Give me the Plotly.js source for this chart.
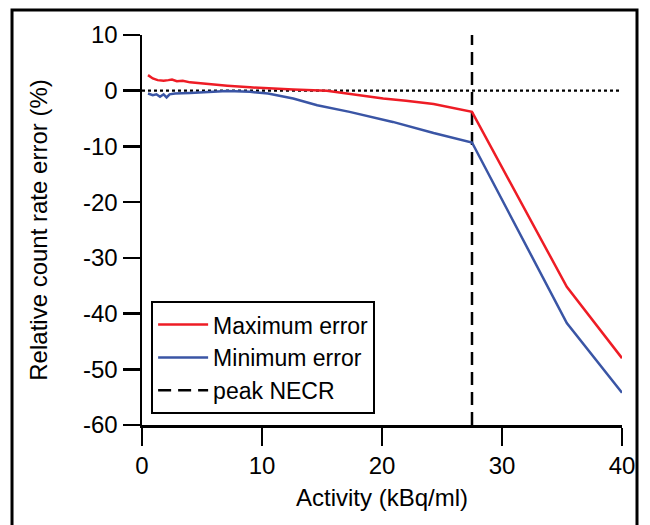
<!DOCTYPE html>
<html>
<head>
<meta charset="utf-8">
<script src="https://cdn.plot.ly/plotly-3.0.1.min.js"></script>
<style>
  html, body { margin: 0; padding: 0; background: #fff; }
  #chart { width: 650px; height: 525px; }
</style>
</head>
<body>
<div id="chart"></div>
<script>
// Maximum error (red)
const maxX = [0.5, 0.9, 1.3, 1.8, 2.2, 2.5, 2.9, 3.4, 4.0, 5.4, 7.1, 9.0, 10.5, 12.6, 15.4, 17.5, 20.1, 22.0, 24.3, 27.5, 35.4, 40.0];
const maxY = [2.8, 2.2, 1.9, 1.8, 1.9, 2.0, 1.7, 1.8, 1.5, 1.2, 0.9, 0.6, 0.4, 0.2, 0.0, -0.6, -1.4, -1.8, -2.4, -3.8, -35.2, -48.0];
// Minimum error (blue)
const minX = [0.5, 0.9, 1.2, 1.5, 1.8, 2.05, 2.3, 2.75, 4.0, 5.4, 7.1, 9.0, 10.5, 12.6, 14.6, 17.3, 20.9, 24.3, 27.5, 35.4, 40.0];
const minY = [-0.5, -0.8, -0.65, -1.1, -0.65, -1.2, -0.65, -0.5, -0.4, -0.2, -0.05, -0.2, -0.5, -1.4, -2.6, -3.8, -5.6, -7.6, -9.3, -41.7, -54.2];
// Peak NECR activity
const peakNECR = 27.5;
const xRange = [0, 40];
const yRange = [-60, 10];
const xTicks = [0, 10, 20, 30, 40];
const xTickText = ['0', '10', '20', '30', '40'];
const yTicks = [10, 0, -10, -20, -30, -40, -50, -60];
const yTickText = ['10', '0', '-10', '-20', '-30', '-40', '-50', '-60'];

const FONT = 'Liberation Sans, Arial, sans-serif';
const FS = 24;

const traces = [
  {
    x: xRange, y: [0, 0], mode: 'lines', showlegend: false, hoverinfo: 'skip',
    line: { color: '#000', width: 2.2, dash: 'dot' }
  },
  {
    x: [peakNECR, peakNECR], y: yRange, mode: 'lines', name: 'peak NECR', legendrank: 3,
    line: { color: '#000', width: 2.5, dash: '13px,7px' }
  },
  {
    x: minX, y: minY, mode: 'lines', name: 'Minimum error', legendrank: 2,
    line: { color: '#3a55a5', width: 2.5 }
  },
  {
    x: maxX, y: maxY, mode: 'lines', name: 'Maximum error', legendrank: 1,
    line: { color: '#ee1c25', width: 2.5 }
  }
];

const axisCommon = {
  showline: true, linecolor: '#000', linewidth: 2.5,
  ticks: 'outside', tickcolor: '#000', tickwidth: 2.5,
  showgrid: false, zeroline: false,
  tickfont: { family: FONT, size: FS, color: '#000' }
};

const layout = {
  width: 650, height: 525,
  margin: { l: 142, r: 28, t: 35, b: 100 },
  paper_bgcolor: '#fff', plot_bgcolor: '#fff',
  font: { family: FONT, size: FS, color: '#000' },
  xaxis: Object.assign({}, axisCommon, {
    range: xRange, tickvals: xTicks, ticktext: xTickText, ticklen: 18,
    title: { text: 'Activity (kBq/ml)', font: { family: FONT, size: FS, color: '#000' }, standoff: 11 }
  }),
  yaxis: Object.assign({}, axisCommon, {
    range: yRange, tickvals: yTicks, ticktext: yTickText, ticklen: 17,
    title: { text: 'Relative count rate error (%)', font: { family: FONT, size: FS, color: '#000' }, standoff: 29 }
  }),
  legend: {
    x: 0.019, y: 0.028, xanchor: 'left', yanchor: 'bottom',
    bgcolor: '#fff', bordercolor: '#000', borderwidth: 2,
    font: { family: FONT, size: 23, color: '#000' },
    itemwidth: 50,
    tracegroupgap: 0
  },
  shapes: [
    { type: 'rect', xref: 'paper', yref: 'paper',
      x0: -0.2708, x1: 1.03125, y0: -0.3, y1: 1.0641,
      line: { color: '#000', width: 3 }, fillcolor: 'rgba(0,0,0,0)' }
  ],
  showlegend: true
};

Plotly.newPlot('chart', traces, layout, { staticPlot: true, displayModeBar: false });
</script>
</body>
</html>
